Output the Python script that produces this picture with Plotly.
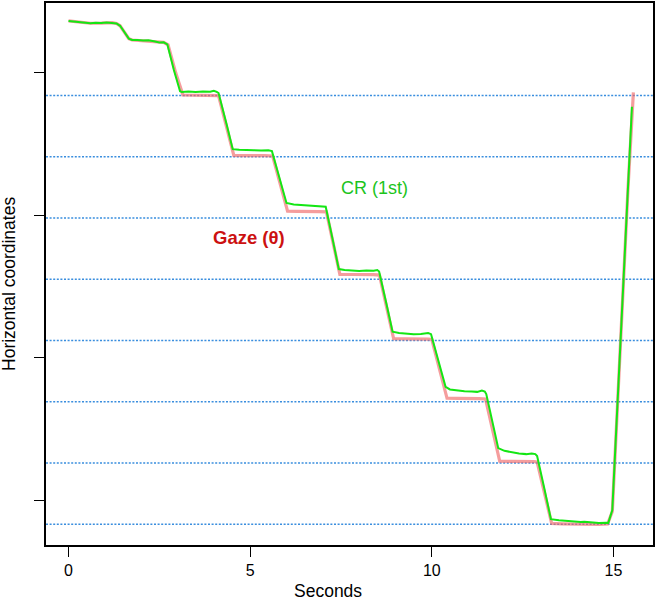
import plotly.graph_objects as go

# time (s) and horizontal coordinate of the corneal reflection (CR, 1st Purkinje)
cr_t = [0.00, 0.15, 0.30, 0.45, 0.60, 0.75, 0.90, 1.05, 1.20, 1.32, 1.42, 1.50, 1.58, 1.66, 1.75,
        1.90, 2.05, 2.20, 2.35, 2.50, 2.62, 2.72,
        2.90, 3.07, 3.12, 3.30, 3.50, 3.70, 3.90, 4.00, 4.08, 4.13,
        4.35, 4.52, 4.70, 4.90, 5.10, 5.30, 5.50, 5.60,
        5.80, 6.00, 6.20, 6.40, 6.60, 6.80, 7.00, 7.08,
        7.28, 7.44, 7.60, 7.80, 8.00, 8.20, 8.40, 8.50, 8.55,
        8.75, 8.92, 9.10, 9.30, 9.50, 9.70, 9.90, 9.98,
        10.20, 10.38, 10.50, 10.70, 10.90, 11.10, 11.25, 11.38, 11.46, 11.50,
        11.68, 11.83, 12.00, 12.20, 12.40, 12.60, 12.75, 12.85, 12.90,
        13.10, 13.28, 13.50, 13.70, 13.90, 14.10, 14.20, 14.40, 14.60, 14.80, 14.86,
        14.97, 15.10, 15.27, 15.40, 15.51]
cr_x = [436.4, 436.0, 435.6, 435.0, 434.8, 435.1, 434.9, 435.3, 435.2, 434.6, 433.0, 430.0, 426.5, 424.0, 423.0,
        423.1, 422.6, 422.9, 422.2, 421.3, 421.4, 420.0,
        402.0, 387.0, 386.6, 386.8, 386.5, 386.9, 386.7, 387.4, 386.6, 385.8,
        364.0, 346.4, 346.0, 345.6, 345.7, 345.4, 345.6, 345.0,
        326.0, 308.6, 307.6, 307.2, 306.8, 306.3, 306.4, 306.0,
        282.0, 262.2, 261.6, 261.3, 260.9, 261.2, 261.0, 261.5, 260.5,
        238.0, 218.2, 217.3, 216.8, 216.5, 216.7, 217.3, 216.5,
        196.0, 179.5, 177.7, 177.0, 176.5, 176.2, 176.0, 177.0, 176.3, 174.5,
        154.0, 136.5, 134.6, 133.4, 132.7, 132.3, 132.8, 132.3, 131.0,
        108.0, 86.6, 85.8, 85.3, 85.0, 84.6, 84.9, 84.2, 84.0, 84.2, 84.0,
        93.0, 160.0, 255.0, 318.0, 376.2]

# time (s) and horizontal coordinate of the estimated gaze (theta)
gaze_t = [0.00, 0.30, 0.60, 0.90, 1.20, 1.32, 1.42, 1.50, 1.58, 1.66, 1.75, 2.05, 2.35, 2.62, 2.74,
          2.95, 3.15, 3.40, 3.70, 4.00, 4.13,
          4.35, 4.55, 4.80, 5.10, 5.40, 5.62,
          5.82, 6.03, 6.30, 6.60, 6.90, 7.10,
          7.30, 7.47, 7.80, 8.10, 8.40, 8.56,
          8.76, 8.95, 9.30, 9.60, 9.90, 10.00,
          10.22, 10.42, 10.70, 11.00, 11.30, 11.48,
          11.68, 11.87, 12.20, 12.50, 12.80, 12.90,
          13.10, 13.30, 13.60, 14.00, 14.30, 14.60, 14.84,
          14.97, 15.10, 15.27, 15.40, 15.55]
gaze_x = [436.4, 435.6, 434.8, 434.9, 435.2, 434.6, 433.0, 430.0, 426.5, 424.0, 423.0, 422.6, 422.2, 421.4, 419.6,
          400.0, 384.4, 384.3, 384.5, 384.3, 384.0,
          362.0, 342.0, 341.9, 342.1, 341.8, 341.6,
          322.0, 302.8, 302.7, 302.9, 302.6, 302.4,
          280.0, 258.5, 258.4, 258.6, 258.3, 258.0,
          235.0, 213.3, 213.2, 213.4, 213.1, 212.8,
          192.0, 171.5, 171.4, 171.6, 171.3, 171.0,
          149.0, 127.3, 127.2, 127.4, 127.1, 126.8,
          104.0, 83.7, 83.4, 83.2, 82.7, 82.9, 83.2,
          92.0, 160.0, 255.0, 318.0, 386.2]

# target positions (dotted reference lines)
targets = [384, 341, 298, 255, 212, 169, 126, 83]
y_ticks = [100, 200, 300, 400]
x_ticks = [0, 5, 10, 15]

FONT = "Liberation Sans, Arial, Helvetica, sans-serif"

fig = go.Figure()
fig.add_trace(go.Scatter(x=gaze_t, y=gaze_x, mode="lines", name="Gaze (θ)",
                         line=dict(color="rgba(240,105,105,0.65)", width=3.2)))
fig.add_trace(go.Scatter(x=cr_t, y=cr_x, mode="lines", name="CR (1st)",
                         line=dict(color="#14e614", width=2)))

for v in targets:
    fig.add_shape(type="line", xref="paper", x0=0, x1=1, yref="y", y0=v, y1=v,
                  line=dict(color="#3a8ede", width=1.5, dash="2px,1.6px"), layer="below")

fig.add_annotation(x=8.43, y=319, text="CR (1st)", showarrow=False,
                   font=dict(family=FONT, size=18, color="#1cc41c"))
fig.add_annotation(x=4.96, y=284.6, text="<b>Gaze (θ)</b>", showarrow=False,
                   font=dict(family=FONT, size=18.5, color="#cc1111"))

# axis titles placed as in the reference
fig.add_annotation(xref="paper", yref="paper", x=0.464, y=0, yshift=-46, text="Seconds",
                   showarrow=False, yanchor="middle", font=dict(family=FONT, size=17.5, color="black"))
fig.add_annotation(xref="paper", yref="paper", x=0, xshift=-37, y=0.4816, text="Horizontal coordinates",
                   textangle=-90, showarrow=False, xanchor="center",
                   font=dict(family=FONT, size=17.5, color="black"))

fig.update_layout(
    width=656, height=601,
    margin=dict(l=46, r=2, t=1, b=56),
    plot_bgcolor="white", paper_bgcolor="white",
    showlegend=False,
    font=dict(family=FONT, size=16, color="black"),
    xaxis=dict(range=[-0.62, 16.09], tickvals=x_ticks, ticks="outside", ticklen=10,
               tickwidth=1.3, tickcolor="black", showgrid=False, zeroline=False,
               showline=True, linecolor="black", linewidth=1.6, mirror=True,
               tickfont=dict(family=FONT, size=16, color="black")),
    yaxis=dict(range=[68.5, 449], tickvals=y_ticks, ticks="outside", ticklen=10,
               tickwidth=1.3, tickcolor="black", showticklabels=False, showgrid=False,
               zeroline=False, showline=True, linecolor="black", linewidth=1.6, mirror=True),
)

fig.write_html("out.html", config={"displayModeBar": False},
               post_script="document.body.style.margin='0';document.body.style.overflow='hidden';")
